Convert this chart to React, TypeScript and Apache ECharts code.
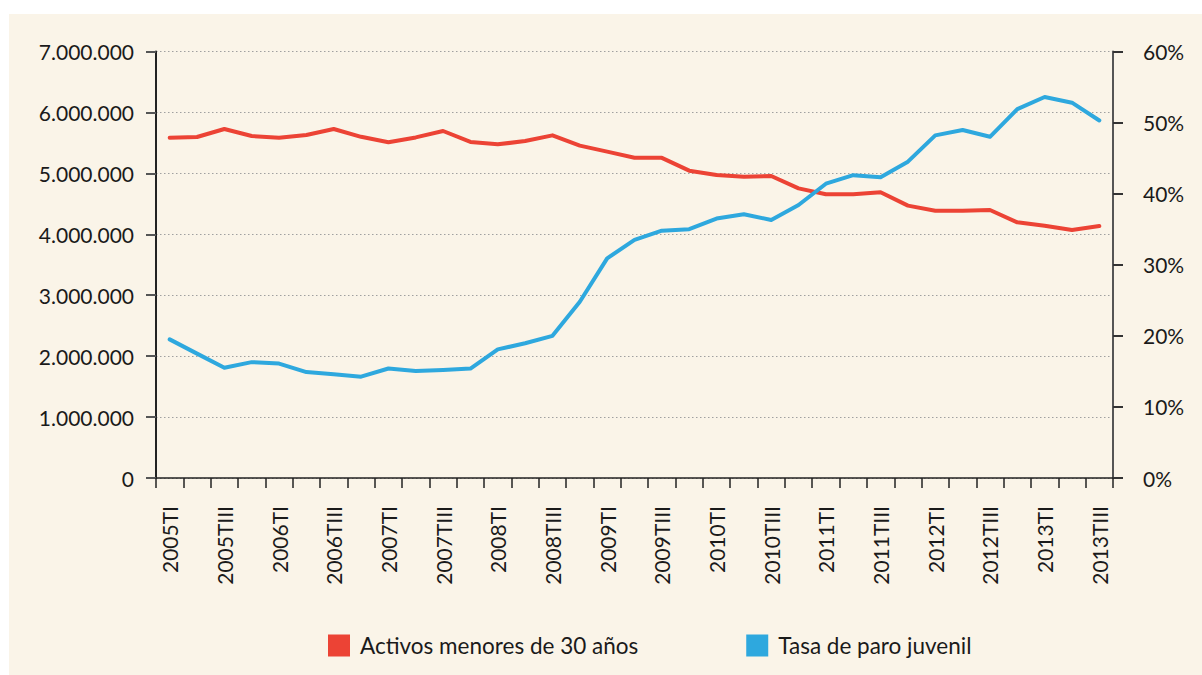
import React, { useEffect, useRef } from "react";
import * as echarts from "echarts";

const categories = [
  "2005TI", "2005TII", "2005TIII", "2005TIV",
  "2006TI", "2006TII", "2006TIII", "2006TIV",
  "2007TI", "2007TII", "2007TIII", "2007TIV",
  "2008TI", "2008TII", "2008TIII", "2008TIV",
  "2009TI", "2009TII", "2009TIII", "2009TIV",
  "2010TI", "2010TII", "2010TIII", "2010TIV",
  "2011TI", "2011TII", "2011TIII", "2011TIV",
  "2012TI", "2012TII", "2012TIII", "2012TIV",
  "2013TI", "2013TII", "2013TIII",
];

const activos = [
  5585000, 5597000, 5728000, 5613000, 5585000, 5630000, 5728000, 5600000,
  5510000, 5590000, 5695000, 5515000, 5476000, 5530000, 5624000, 5455000,
  5356000, 5257000, 5255000, 5044000, 4973000, 4945000, 4956000, 4754000,
  4656000, 4656000, 4690000, 4470000, 4387000, 4387000, 4398000, 4196000,
  4141000, 4070000, 4136000,
];

const tasaParo = [
  19.5, 17.5, 15.5, 16.3, 16.1, 14.9, 14.6, 14.25, 15.4, 15.05, 15.2, 15.4,
  18.1, 18.95, 20.0, 24.8, 30.9, 33.5, 34.8, 35.0, 36.5, 37.1, 36.3, 38.4,
  41.4, 42.6, 42.3, 44.5, 48.2, 48.96, 48.0, 51.9, 53.6, 52.8, 50.3,
];

const seriesNames = ["Activos menores de 30 años", "Tasa de paro juvenil"];

const FONT = "Lato";
const TEXT = "#1a1a1a";

function fmtThousands(v: number): string {
  return String(Math.round(v)).replace(/\B(?=(\d{3})+(?!\d))/g, ".");
}

export default function App() {
  const ref = useRef<HTMLDivElement>(null);
  useEffect(() => {
    if (!ref.current) return;
    const chart = echarts.init(ref.current, undefined, { renderer: "svg" });
    chart.setOption({
      animation: false,
      backgroundColor: "transparent",
      textStyle: { fontFamily: FONT },
      grid: { left: 156, right: 89, top: 51.5, bottom: 197, containLabel: false },
      legend: {
        left: 323,
        top: 629,
        itemWidth: 22,
        itemHeight: 22,
        itemGap: 108,
        icon: "rect",
        textStyle: { fontFamily: FONT, fontSize: 22.5, color: TEXT, padding: [0, 0, 0, 5] },
        data: seriesNames,
      },
      xAxis: {
        type: "category",
        data: categories,
        boundaryGap: true,
        axisLine: { lineStyle: { color: "#222", width: 1.5 } },
        axisTick: { show: true, interval: 0, length: 10, lineStyle: { color: "#222", width: 1.5 } },
        axisLabel: {
          interval: 1,
          rotate: 90,
          margin: 28,
          fontFamily: FONT,
          fontSize: 21,
          color: TEXT,
        },
        splitLine: { show: false },
      },
      yAxis: [
        {
          type: "value",
          min: 0,
          max: 7000000,
          interval: 1000000,
          position: "left",
          axisLine: { show: true, lineStyle: { color: "#222", width: 2 } },
          axisTick: { show: true, length: 10, lineStyle: { color: "#555", width: 2 } },
          axisLabel: {
            margin: 22,
            fontFamily: FONT,
            fontSize: 21,
            color: TEXT,
            formatter: (v: number) => fmtThousands(v),
          },
          splitLine: { show: true, lineStyle: { color: "#a0a0a0", type: [1.5, 2.5], width: 1 } },
        },
        {
          type: "value",
          min: 0,
          max: 60,
          interval: 10,
          position: "right",
          axisLine: { show: true, lineStyle: { color: "#555", width: 2 } },
          axisTick: { show: true, length: 10, lineStyle: { color: "#333", width: 2 } },
          axisLabel: {
            margin: 30,
            fontFamily: FONT,
            fontSize: 21,
            color: TEXT,
            formatter: "{value}%",
          },
          splitLine: { show: false },
        },
      ],
      series: [
        {
          name: seriesNames[0],
          type: "line",
          yAxisIndex: 0,
          data: activos,
          symbol: "none",
          color: "#ec4335",
          lineStyle: { width: 4, color: "#ec4335", cap: "round", join: "round" },
        },
        {
          name: seriesNames[1],
          type: "line",
          yAxisIndex: 1,
          data: tasaParo,
          symbol: "none",
          color: "#2ea8de",
          lineStyle: { width: 4, color: "#2ea8de", cap: "round", join: "round" },
        },
      ],
    });
    return () => chart.dispose();
  }, []);

  return (
    <div style={{ position: "fixed", left: 0, top: 0, width: 1202, height: 675, background: "#ffffff" }}>
      <div style={{ position: "absolute", left: 9, top: 14, right: 0, bottom: 0, background: "#faf4e8" }} />
      <div ref={ref} style={{ position: "absolute", left: 0, top: 0, width: 1202, height: 675 }} />
    </div>
  );
}
